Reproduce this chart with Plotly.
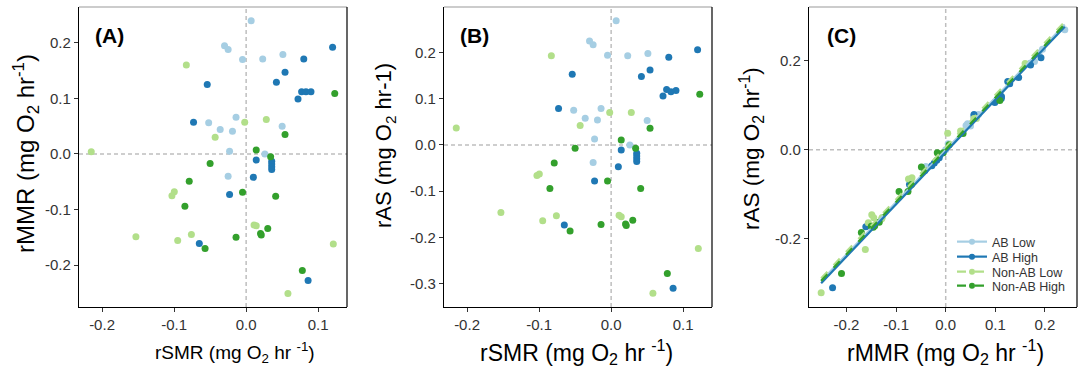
import numpy as np
import plotly.graph_objects as go

# ---------------- data ----------------
groups = ["AB Low", "AB High", "Non-AB Low", "Non-AB High"]
colors = ["#A6CEE3", "#1F78B4", "#B2DF8A", "#33A02C"]
line_dash = ["solid", "solid", "dash", "dash"]

ab_low_rsmr = [0.007, -0.030, -0.025, -0.005, 0.023, 0.051, -0.052, -0.014, 0.050, -0.036, -0.019, -0.023, 0.026, -0.025]
ab_low_rmmr = [0.240, 0.195, 0.188, 0.170, 0.171, 0.179, 0.056, 0.066, 0.050, 0.044, 0.041, 0.005, 0.000, -0.040]
ab_low_ras = [0.269, 0.225, 0.217, 0.194, 0.193, 0.198, 0.075, 0.079, 0.053, 0.058, 0.054, 0.013, 0.000, -0.038]

ab_high_rsmr = [0.120, 0.080, 0.054, 0.042, -0.054, 0.072, 0.077, 0.083, 0.090, -0.073, 0.014,
                0.0355, 0.0355, 0.0355, 0.0355, 0.010, -0.023, -0.065, 0.086]
ab_high_rmmr = [0.192, 0.171, 0.147, 0.129, 0.125, 0.099, 0.112, 0.112, 0.112, 0.057, -0.011,
                -0.013, -0.018, -0.023, -0.028, -0.042, -0.073, -0.161, -0.228]
ab_high_ras = [0.206, 0.190, 0.162, 0.148, 0.153, 0.106, 0.120, 0.115, 0.118, 0.079, -0.011,
               -0.018, -0.024, -0.030, -0.036, -0.047, -0.078, -0.173, -0.310]

nonab_low_rsmr = [-0.083, -0.002, 0.028, -0.043, -0.215, -0.0997, -0.103, 0.011, 0.014, -0.153, -0.095, -0.076, 0.121, 0.058]
nonab_low_rmmr = [0.160, 0.057, 0.062, 0.030, 0.004, -0.068, -0.075, -0.128, -0.129, -0.149, -0.156, -0.145, -0.162, -0.251]
nonab_low_ras = [0.193, 0.070, 0.070, 0.042, 0.037, -0.063, -0.066, -0.152, -0.155, -0.146, -0.164, -0.153, -0.224, -0.321]

nonab_high_rsmr = [0.123, 0.054, 0.014, 0.034, -0.050, -0.079, -0.005, 0.041, -0.085, 0.030, 0.020, 0.021, -0.014, -0.057, 0.078]
nonab_high_rmmr = [0.109, 0.035, 0.007, -0.005, -0.017, -0.049, -0.069, -0.076, -0.094, -0.134, -0.143, -0.146, -0.150, -0.170, -0.210]
nonab_high_ras = [0.110, 0.036, 0.011, -0.007, -0.007, -0.039, -0.078, -0.094, -0.094, -0.163, -0.171, -0.174, -0.172, -0.186, -0.278]

rsmr = [ab_low_rsmr, ab_high_rsmr, nonab_low_rsmr, nonab_high_rsmr]
rmmr = [ab_low_rmmr, ab_high_rmmr, nonab_low_rmmr, nonab_high_rmmr]
ras = [ab_low_ras, ab_high_ras, nonab_low_ras, nonab_high_ras]

tick_x_ab = [-0.2, -0.1, 0.0, 0.1]
tick_x_ab_text = ["-0.2", "-0.1", "0.0", "0.1"]
tick_y_a = [-0.2, -0.1, 0.0, 0.1, 0.2]
tick_y_a_text = ["-0.2", "-0.1", "0.0", "0.1", "0.2"]
tick_y_b = [-0.3, -0.2, -0.1, 0.0, 0.1, 0.2]
tick_y_b_text = ["-0.3", "-0.2", "-0.1", "0.0", "0.1", "0.2"]
tick_x_c = [-0.2, -0.1, 0.0, 0.1, 0.2]
tick_x_c_text = ["-0.2", "-0.1", "0.0", "0.1", "0.2"]
tick_y_c = [-0.2, 0.0, 0.2]
tick_y_c_text = ["-0.2", "0.0", "0.2"]

# ---------------- figure ----------------
W, H = 1078, 369
FONT = "Liberation Sans, Arial, sans-serif"
fig = go.Figure()

MS = 7
for i, g in enumerate(groups):
    fig.add_trace(go.Scatter(x=rsmr[i], y=rmmr[i], mode="markers", xaxis="x", yaxis="y",
                             marker=dict(color=colors[i], size=MS), showlegend=False, name=g))
    fig.add_trace(go.Scatter(x=rsmr[i], y=ras[i], mode="markers", xaxis="x2", yaxis="y2",
                             marker=dict(color=colors[i], size=MS), showlegend=False, name=g))
    fig.add_trace(go.Scatter(x=rmmr[i], y=ras[i], mode="markers", xaxis="x3", yaxis="y3",
                             marker=dict(color=colors[i], size=MS), showlegend=False, name=g))

# fitted lines in panel C: common slope, group-specific intercepts, full rMMR range
xs_g = [np.array(v) for v in rmmr]
ys_g = [np.array(v) for v in ras]
sxy = sum(((x - x.mean()) * (y - y.mean())).sum() for x, y in zip(xs_g, ys_g))
sxx = sum(((x - x.mean()) ** 2).sum() for x in xs_g)
slope = sxy / sxx
all_rmmr = np.concatenate(xs_g)
xl = np.array([all_rmmr.min(), all_rmmr.max()])
for i, g in enumerate(groups):
    icpt = ys_g[i].mean() - slope * xs_g[i].mean()
    fig.add_trace(go.Scatter(x=xl, y=slope * xl + icpt, mode="lines", xaxis="x3", yaxis="y3",
                             line=dict(color=colors[i], width=2.2, dash=line_dash[i]),
                             showlegend=False, name=g))

# legend entries (one legend per entry for exact spacing)
leg_names = ["legend", "legend2", "legend3", "legend4"]
leg_y = [242, 257, 272, 286]
for i, g in enumerate(groups):
    fig.add_trace(go.Scatter(x=[None], y=[None], mode="lines+markers", xaxis="x3", yaxis="y3",
                             line=dict(color=colors[i], width=2.2, dash=line_dash[i]),
                             marker=dict(color=colors[i], size=6),
                             name=g, showlegend=True, legend=leg_names[i]))

x_ab_range = [-0.232, 0.140]
doms_x = [[79 / W, 347 / W], [444 / W, 712 / W], [809 / W, 1077 / W]]
dom_y = [(H - 307) / H, (H - 7) / H]

axis_common = dict(showline=True, linecolor="black", linewidth=1.2, ticks="outside",
                   ticklen=4, tickcolor="#333333", tickwidth=1, showgrid=False, zeroline=False,
                   tickfont=dict(family=FONT, size=15, color="#333333"), automargin=False)

layout = dict(
    width=W, height=H, margin=dict(l=0, r=0, t=0, b=0),
    paper_bgcolor="white", plot_bgcolor="white",
    font=dict(family=FONT),
    xaxis=dict(axis_common, domain=doms_x[0], range=x_ab_range, anchor="y",
               tickvals=tick_x_ab, ticktext=tick_x_ab_text),
    yaxis=dict(axis_common, domain=dom_y, range=[-0.2755, 0.2646], anchor="x",
               tickvals=tick_y_a, ticktext=tick_y_a_text),
    xaxis2=dict(axis_common, domain=doms_x[1], range=x_ab_range, anchor="y2",
                tickvals=tick_x_ab, ticktext=tick_x_ab_text),
    yaxis2=dict(axis_common, domain=dom_y, range=[-0.3505, 0.2985], anchor="x2",
                tickvals=tick_y_b, ticktext=tick_y_b_text),
    xaxis3=dict(axis_common, domain=doms_x[2], range=[-0.2755, 0.2646], anchor="y3",
                tickvals=tick_x_c, ticktext=tick_x_c_text),
    yaxis3=dict(axis_common, domain=dom_y, range=[-0.353, 0.320], anchor="x3",
                tickvals=tick_y_c, ticktext=tick_y_c_text),
)
for i, ln in enumerate(leg_names):
    layout[ln] = dict(x=952 / W, xanchor="left", y=(H - leg_y[i]) / H, yanchor="middle",
                      bgcolor="rgba(0,0,0,0)", borderwidth=0,
                      font=dict(family=FONT, size=12.5, color="#333333"),
                      itemwidth=30)
fig.update_layout(**layout)

shapes = []
for ax in ["", "2", "3"]:
    xr, yr = "x" + ax, "y" + ax
    # dashed reference lines through zero
    shapes.append(dict(type="line", xref=xr, yref=yr + " domain", x0=0, x1=0, y0=0, y1=1,
                       line=dict(color="#BEBEBE", width=1.5, dash="4px,3px"), layer="below"))
    shapes.append(dict(type="line", xref=xr + " domain", yref=yr, x0=0, x1=1, y0=0, y1=0,
                       line=dict(color="#BEBEBE", width=1.5, dash="4px,3px"), layer="below"))
    # top (grey) and right (black) borders
    shapes.append(dict(type="line", xref=xr + " domain", yref=yr + " domain", x0=0, x1=1, y0=1, y1=1,
                       line=dict(color="#9A9A9A", width=1.2)))
    shapes.append(dict(type="line", xref=xr + " domain", yref=yr + " domain", x0=1, x1=1, y0=0, y1=1,
                       line=dict(color="black", width=1.2)))
fig.update_layout(shapes=shapes)

annotations = []
# panel labels
labels = ["(A)", "(B)", "(C)"]
label_x = [93, 458, 825]
for lab, lx in zip(labels, label_x):
    annotations.append(dict(text="<b>" + lab + "</b>", xref="paper", yref="paper",
                            x=lx / W, y=(H - 36) / H, xanchor="left", yanchor="middle",
                            showarrow=False, font=dict(family=FONT, size=21, color="black")))

# axis titles
x_titles = ["rSMR (mg O<sub>2</sub> hr <sup>-1</sup>)",
            "rSMR (mg O<sub>2</sub> hr <sup>-1</sup>)",
            "rMMR (mg O<sub>2</sub> hr <sup>-1</sup>)"]
x_title_cx = [235, 576, 945]
x_title_size = [19, 23, 23]
for t, cx, fs in zip(x_titles, x_title_cx, x_title_size):
    annotations.append(dict(text=t, xref="paper", yref="paper", x=cx / W, y=(H - 352) / H,
                            xanchor="center", yanchor="middle", showarrow=False,
                            font=dict(family=FONT, size=fs, color="black")))

y_titles = ["rMMR (mg O<sub>2</sub> hr<sup>-1</sup>)",
            "rAS (mg O<sub>2</sub> hr-1)",
            "rAS (mg O<sub>2</sub> hr<sup>-1</sup>)"]
y_title_cx = [26, 385, 751]
y_title_cy = [154, 146, 149]
y_title_size = [24, 22, 22.5]
for t, cx, cy, fs in zip(y_titles, y_title_cx, y_title_cy, y_title_size):
    annotations.append(dict(text=t, xref="paper", yref="paper", x=cx / W, y=(H - cy) / H,
                            xanchor="center", yanchor="middle", showarrow=False, textangle=-90,
                            font=dict(family=FONT, size=fs, color="black")))
fig.update_layout(annotations=annotations)

fig.write_html("out.html")
